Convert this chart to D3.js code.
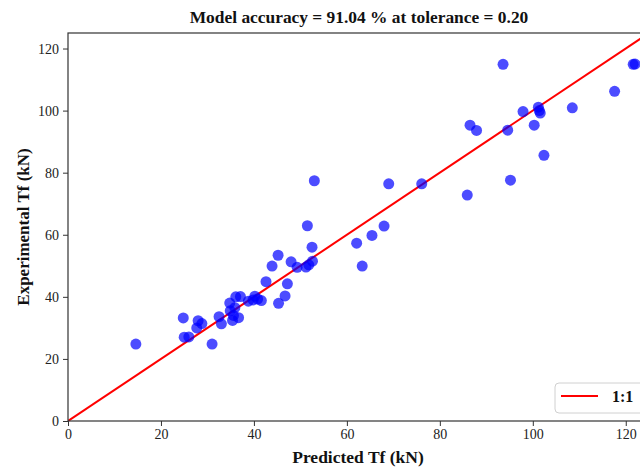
<!DOCTYPE html>
<html>
<head>
<meta charset="utf-8">
<script src="https://cdn.jsdelivr.net/npm/d3@7"></script>
<style>
  html, body { margin: 0; padding: 0; background: #fff; }
  svg { display: block; font-family: "Liberation Serif", "Times New Roman", serif; }
  .tick text { font-size: 14px; fill: #222; font-family: "Liberation Serif", "Times New Roman", serif; }
  .tick line { stroke: #333; }
</style>
</head>
<body>
<div id="chart"></div>
<script>
// Predicted vs experimental Tf (kN)
const predicted = [
  14.6, 24.8, 25.0, 26.0, 28.0, 28.8, 27.7, 31.0, 32.5, 33.0,
  34.8, 34.9, 35.6, 35.4, 36.7, 36.1, 37.1, 38.8, 40.2, 40.8,
  41.6, 39.8, 35.9, 42.6, 43.9, 45.2, 45.3, 46.7, 47.2, 48.0,
  49.3, 51.2, 51.5, 52.5, 52.6, 51.8, 53.0, 62.1, 63.3, 65.4,
  68.0, 69.0, 76.1, 85.9, 86.5, 87.9, 93.6, 94.6, 95.2, 97.9,
  100.3, 101.2, 101.6, 101.4, 102.4, 108.5, 117.6, 121.6, 122.0
];
const experimental = [
  24.8, 33.2, 27.0, 27.1, 32.3, 31.4, 30.0, 24.8, 33.6, 31.3,
  38.0, 35.5, 34.0, 32.4, 33.3, 40.0, 40.1, 38.6, 40.2, 39.3,
  38.8, 39.0, 36.5, 44.9, 49.9, 53.4, 37.9, 40.3, 44.2, 51.3,
  49.5, 49.6, 62.9, 56.0, 51.5, 50.3, 77.4, 57.3, 49.9, 59.8,
  62.8, 76.4, 76.4, 72.8, 95.3, 93.6, 114.9, 93.7, 77.6, 99.7,
  95.3, 101.1, 99.2, 100.0, 85.6, 100.9, 106.2, 114.9, 115.0
];
const xTicks = [0, 20, 40, 60, 80, 100, 120];
const yTicks = [0, 20, 40, 60, 80, 100, 120];
const identityLine = [0, 125];

const titleText = "Model accuracy = 91.04 % at tolerance = 0.20";
const xLabel = "Predicted Tf (kN)";
const yLabel = "Experimental Tf (kN)";
const legendLabel = "1:1";

const W = 640, H = 468;
const M = { top: 33, right: -9, bottom: 47, left: 68 };

const svg = d3.select("#chart").append("svg")
  .attr("width", W).attr("height", H);

const x = d3.scaleLinear().domain([0, 125]).range([M.left, W - M.right]);
const y = d3.scaleLinear().domain([0, 125]).range([H - M.bottom, M.top]);

// axes (d3 puts font-family="sans-serif" on the group, drop it)
svg.append("g")
  .attr("transform", `translate(0,${H - M.bottom})`)
  .call(d3.axisBottom(x).tickValues(xTicks).tickSize(5).tickPadding(3))
  .call((g) => g.attr("font-family", null).attr("font-size", null))
  .call((g) => g.select(".domain").remove());

svg.append("g")
  .attr("transform", `translate(${M.left},0)`)
  .call(d3.axisLeft(y).tickValues(yTicks).tickSize(5).tickPadding(4))
  .call((g) => g.attr("font-family", null).attr("font-size", null))
  .call((g) => g.select(".domain").remove());

// 1:1 line, clipped to the plot box
svg.append("defs").append("clipPath").attr("id", "plot-clip")
  .append("rect").attr("x", M.left).attr("y", M.top)
  .attr("width", x(125) - M.left).attr("height", y(0) - M.top);

svg.append("line")
  .attr("clip-path", "url(#plot-clip)")
  .attr("x1", x(identityLine[0])).attr("y1", y(identityLine[0]))
  .attr("x2", x(identityLine[1])).attr("y2", y(identityLine[1]))
  .attr("stroke", "#ff0000").attr("stroke-width", 2);

// points
const pts = predicted.map((p, i) => ({ p, e: experimental[i] }));
svg.append("g").selectAll("circle")
  .data(pts).enter().append("circle")
  .attr("cx", (d) => x(d.p))
  .attr("cy", (d) => y(d.e))
  .attr("r", 5.5)
  .attr("fill", "#0000ff")
  .attr("fill-opacity", 0.7);

// frame
svg.append("rect")
  .attr("x", M.left).attr("y", M.top)
  .attr("width", x(125) - M.left).attr("height", y(0) - M.top)
  .attr("fill", "none").attr("stroke", "#333").attr("stroke-width", 1.2);

// legend
const lg = svg.append("g").attr("transform", "translate(555,383)");
lg.append("rect")
  .attr("width", 95).attr("height", 30).attr("rx", 4)
  .attr("fill", "#fff").attr("fill-opacity", 0.8)
  .attr("stroke", "#d0d0d0");
lg.append("line")
  .attr("x1", 6).attr("x2", 43).attr("y1", 13).attr("y2", 13)
  .attr("stroke", "#ff0000").attr("stroke-width", 2);
lg.append("text")
  .attr("x", 57).attr("y", 19)
  .attr("font-size", 16).attr("font-weight", "bold").attr("fill", "#111")
  .text(legendLabel);

// texts
svg.append("text")
  .attr("x", 359).attr("y", 23)
  .attr("text-anchor", "middle")
  .attr("font-size", 17.4).attr("font-weight", "bold").attr("fill", "#111")
  .text(titleText);

svg.append("text")
  .attr("x", 358).attr("y", 463)
  .attr("text-anchor", "middle")
  .attr("font-size", 17.5).attr("font-weight", "bold").attr("fill", "#111")
  .text(xLabel);

svg.append("text")
  .attr("transform", `translate(29,${(M.top + H - M.bottom) / 2}) rotate(-90)`)
  .attr("text-anchor", "middle")
  .attr("font-size", 17).attr("font-weight", "bold").attr("fill", "#111")
  .text(yLabel);
</script>
</body>
</html>
